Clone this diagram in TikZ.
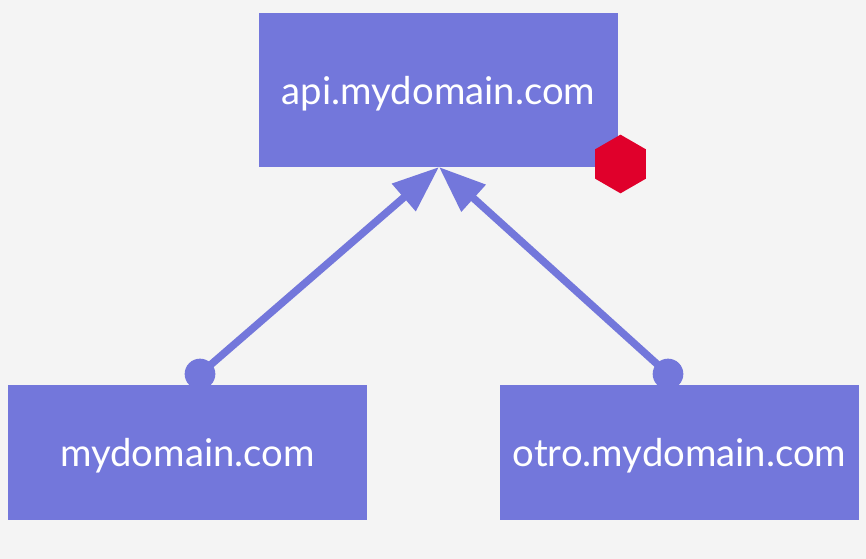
\documentclass[tikz,border=0pt]{standalone}
\usepackage{fontspec}
\setmainfont{Lato}
\usetikzlibrary{arrows.meta,shapes.geometric}
\definecolor{bgc}{HTML}{F4F4F4}
\definecolor{boxc}{HTML}{7377DB}
\definecolor{hexc}{HTML}{E0002B}
\tikzset{
 x=0.75pt,y=-0.75pt,
 dombox/.style={fill=boxc,draw=none,minimum width=269.25pt,inner sep=0pt},
 domtext/.style={text=white,inner sep=0pt,font=\fontsize{28.7pt}{32pt}\selectfont},
 link/.style={draw=boxc,line width=5.6pt,-{Triangle[length=35pt,width=26pt]}},
 dot/.style={circle,fill=boxc,minimum size=23pt,inner sep=0pt},
}
\begin{document}
\begin{tikzpicture}
\useasboundingbox (0,0) rectangle (866,559);
\fill[bgc] (0,0) rectangle (866,559);
\node[dombox,minimum height=115.5pt] (api) at (438.5,90) {};
\node[dombox,minimum height=101.25pt] (left) at (187.5,452) {};
\node[dombox,minimum height=101.25pt] (right) at (679.5,452) {};
\node[domtext] (apit) at (438.5,94) {api.mydomain.com};
\node[domtext] (leftt) at (187.5,456) {mydomain.com};
\node[domtext] (rightt) at (679.5,456) {otro.mydomain.com};
\node[dot] (d1) at (200,374) {};
\node[dot] (d2) at (668,374) {};
\coordinate (tip) at (439,167);
\draw[link] (d1.center) -- (tip);
\draw[link] (d2.center) -- (tip);
\node[regular polygon,regular polygon sides=6,shape border rotate=30,fill=hexc,minimum size=44pt,inner sep=0pt] (hex) at (620.5,164) {};
\end{tikzpicture}
\end{document}
